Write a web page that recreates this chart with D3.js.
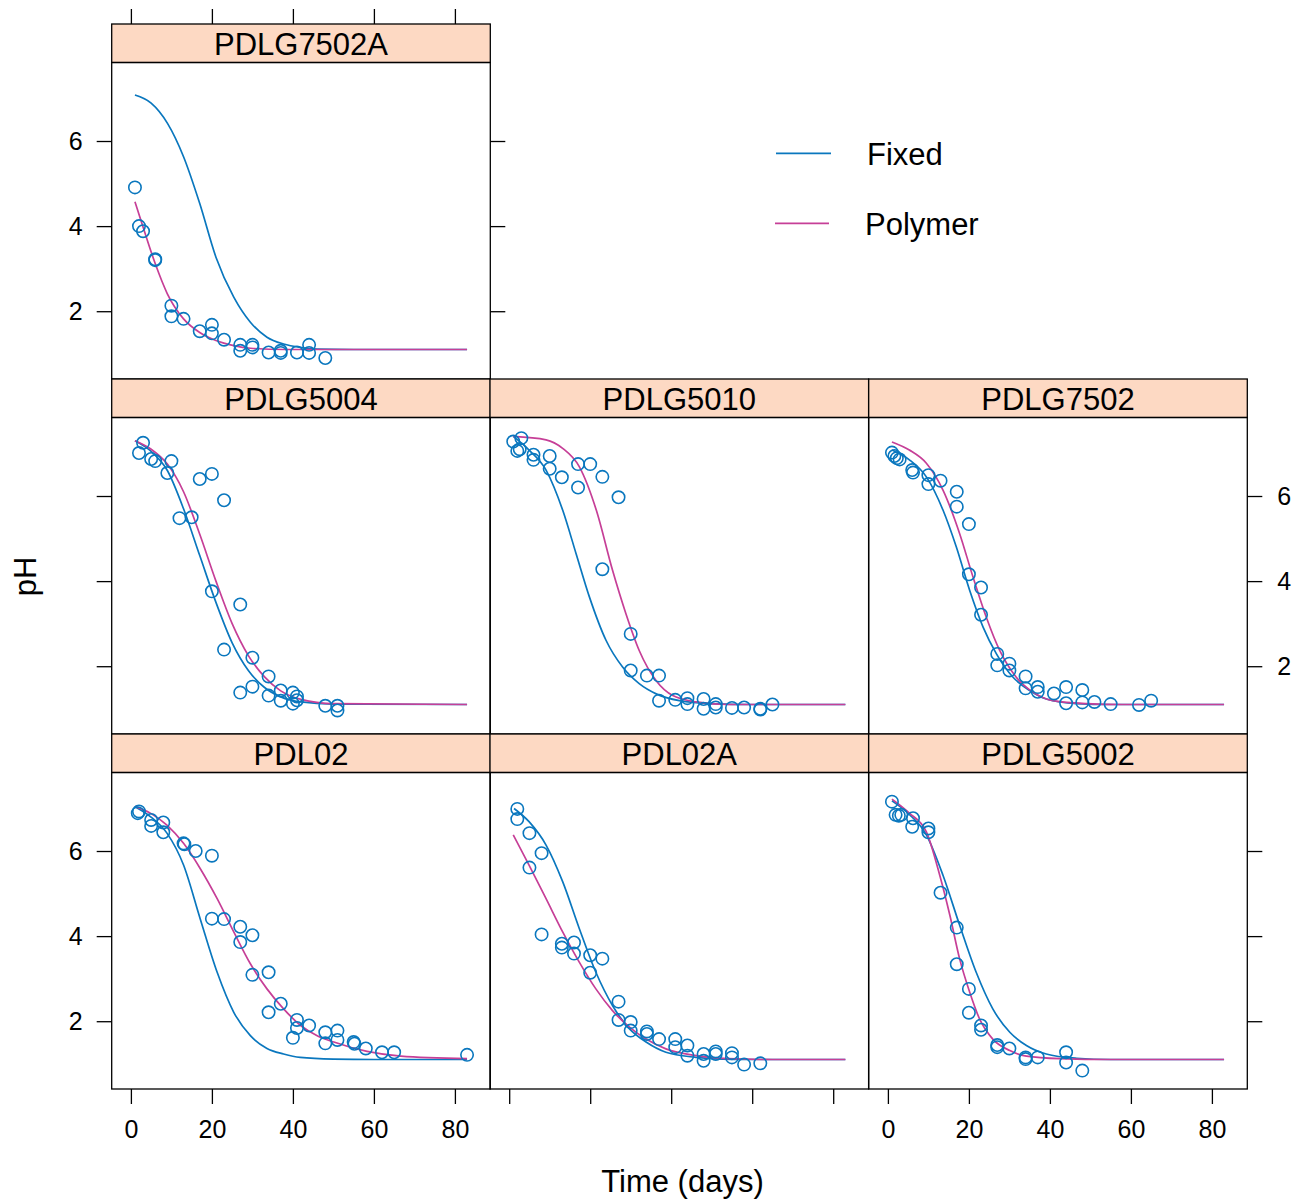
<!DOCTYPE html>
<html><head><meta charset="utf-8">
<script src="https://cdn.jsdelivr.net/npm/d3@7"></script>
<style>body{margin:0;background:#fff}svg{display:block}text{font-family:"Liberation Sans",Arial,Helvetica,sans-serif;fill:#000}</style>
</head><body><svg id="c" width="1311" height="1200"></svg>
<script>
// ---- data ----
const panelNames = ["PDLG7502A","PDLG5004","PDLG5010","PDLG7502","PDL02","PDL02A","PDLG5002"];
const panelCols  = [0,0,1,2,0,1,2];
const panelRows  = [0,1,1,1,2,2,2];
const seriesNames = ["Fixed","Polymer"];
const xTicks = [0,20,40,60,80];
const yTicks = [2,4,6];

const obs_PDLG7502A = [[1,4.91],[2,4.0],[3,3.88],[6,3.22],[6,3.2],[10,2.13],[10,1.88],[13,1.82],[17,1.53],[20,1.68],[20,1.48],[23,1.33],[27,1.21],[27,1.07],[30,1.21],[30,1.15],[34,1.03],[37,1.07],[37,1.02],[41,1.03],[44,1.21],[44,1.02],[48,0.90]];
const fixed_PDLG7502A = [[1,7.08],[5,6.89],[9,6.42],[13,5.63],[17,4.53],[21,3.27],[25.4,2.33],[29.5,1.74],[33.6,1.39],[37.7,1.23],[41.8,1.15],[46,1.11],[55,1.1],[83,1.1]];
const poly_PDLG7502A = [[1,4.57],[3,3.98],[6,3.12],[9,2.41],[13,1.82],[17,1.5],[21,1.31],[25.4,1.19],[29.5,1.13],[38,1.1],[83,1.1]];

const obs_PDLG5004 = [[2,7.01],[3,7.25],[5,6.87],[6,6.82],[9,6.54],[10,6.82],[12,5.48],[15,5.5],[17,6.4],[20,6.52],[20,3.76],[23,5.9],[23,2.39],[27,3.45],[27,1.38],[30,2.2],[30,1.52],[34,1.76],[34,1.31],[37,1.43],[37,1.19],[40,1.38],[40,1.12],[41,1.29],[41,1.2],[48,1.07],[51,1.07],[51,0.96]];
const fixed_PDLG5004 = [[1,7.3],[5,7.05],[9,6.6],[13,5.7],[17,4.6],[21,3.5],[25,2.55],[29,1.9],[33,1.5],[37,1.28],[42,1.16],[50,1.11],[83,1.1]];
const poly_PDLG5004 = [[1,7.3],[5,7.1],[9,6.75],[13,6.1],[17,5.1],[21,4.0],[25,3.0],[29,2.25],[33,1.75],[37,1.42],[42,1.22],[50,1.12],[83,1.1]];

const obs_PDLG5010 = [[1,7.28],[3,7.36],[2,7.06],[2.6,7.1],[6,6.97],[6,6.85],[10,6.94],[10,6.64],[13,6.44],[17,6.75],[17,6.2],[20,6.75],[23,6.45],[27,5.97],[23,4.28],[30,2.76],[30,1.9],[34,1.78],[37,1.78],[37,1.19],[41,1.21],[44,1.25],[44,1.11],[48,1.23],[48,1.0],[51,1.11],[51,1.03],[55,1.02],[58,1.03],[62,1.0],[62,0.98],[65,1.1]];
const fixed_PDLG5010 = [[1,7.4],[4.9,7.08],[9.1,6.61],[13.2,5.67],[16.5,4.65],[19.8,3.63],[23.9,2.61],[28,1.98],[32.1,1.59],[36.3,1.35],[42,1.19],[50,1.12],[60,1.1],[83,1.1]];
const poly_PDLG5010 = [[1,7.4],[9.1,7.32],[13.2,7.12],[17.3,6.69],[21.5,5.67],[25.5,4.26],[28.8,3.24],[32.1,2.37],[36.3,1.66],[40.4,1.31],[46.2,1.16],[54,1.1],[83,1.1]];

const obs_PDLG7502 = [[1,7.02],[1.6,6.94],[2.2,6.89],[2.9,6.86],[6,6.61],[6.2,6.55],[10,6.49],[10,6.28],[13,6.36],[17,6.1],[17,5.75],[20,5.34],[20,4.16],[23,3.85],[23,3.21],[27,2.29],[27,2.02],[30,2.06],[30,1.9],[34,1.76],[34,1.48],[37,1.51],[37,1.4],[41,1.36],[44,1.51],[44,1.13],[48,1.44],[48,1.15],[51,1.16],[55,1.11],[62,1.09],[65,1.19]];
const fixed_PDLG7502 = [[1,7.08],[5.3,6.85],[9.5,6.45],[13.6,5.67],[16.9,4.8],[20.2,3.78],[23.5,2.92],[26.8,2.29],[30.9,1.74],[35,1.43],[39.1,1.23],[46.5,1.12],[55,1.1],[83,1.1]];
const poly_PDLG7502 = [[1,7.27],[5.3,7.08],[9.5,6.77],[13.6,6.14],[17.7,5.12],[21,4.1],[24.3,3.15],[27.6,2.37],[31.7,1.74],[35.8,1.39],[40.8,1.19],[49,1.12],[58,1.1],[83,1.1]];

const obs_PDL02 = [[2,6.93],[1.7,6.89],[5,6.73],[5,6.59],[8,6.67],[8,6.44],[13,6.18],[13.2,6.16],[16,6.0],[20,5.89],[20,4.41],[23,4.4],[27,4.22],[27,3.86],[30,4.02],[30,3.09],[34,3.15],[34,2.21],[37,2.41],[41,2.03],[41,1.84],[40,1.61],[44,1.9],[48,1.74],[48,1.48],[51,1.78],[51,1.56],[55,1.51],[55.2,1.47],[58,1.36],[62,1.27],[65,1.27],[83,1.21]];
const fixed_PDL02 = [[1,7.04],[4.8,6.81],[8.9,6.42],[13,5.67],[17.1,4.41],[21.3,3.15],[25.4,2.21],[29.5,1.66],[33.6,1.36],[37.7,1.23],[41.8,1.15],[50,1.11],[60,1.1],[83,1.1]];
const poly_PDL02 = [[1,7.05],[4.8,6.89],[8.9,6.61],[13,6.18],[17.1,5.59],[21.3,4.88],[25.4,4.1],[29.5,3.35],[33.6,2.76],[37.7,2.29],[41.9,1.9],[46,1.66],[50.1,1.51],[58.3,1.29],[66.6,1.18],[83,1.12]];

const obs_PDL02A = [[2,6.99],[2,6.75],[5,6.42],[8,5.95],[5,5.61],[8,4.04],[13,3.82],[13,3.73],[16,3.85],[16,3.59],[20,3.55],[20,3.14],[23,3.47],[27,2.46],[27,2.03],[30,1.98],[30,1.78],[34,1.76],[34,1.7],[37,1.58],[41,1.58],[41,1.39],[44,1.43],[44,1.19],[48,1.23],[48,1.07],[51,1.29],[51,1.23],[55,1.25],[55,1.15],[58,0.98],[62,1.01]];
const fixed_PDL02A = [[1.2,7.0],[4.9,6.69],[9.1,6.14],[13.2,5.28],[17.3,4.18],[21.4,3.15],[25.5,2.37],[29.7,1.82],[33.8,1.51],[38.7,1.27],[46.1,1.15],[55,1.1],[83,1.1]];
const poly_PDL02A = [[1,6.38],[4.9,5.67],[9.1,4.88],[13.2,4.1],[17.3,3.39],[21.4,2.76],[25.5,2.25],[29.7,1.86],[33.8,1.58],[38.7,1.35],[46.2,1.19],[54,1.12],[65,1.1],[83,1.1]];

const obs_PDLG5002 = [[1,7.16],[1.9,6.85],[2.7,6.83],[3.3,6.85],[6.2,6.77],[6,6.57],[10,6.53],[10,6.44],[13,5.02],[17,4.2],[17,3.34],[20,2.76],[20,2.2],[23,1.9],[23,1.8],[27,1.44],[27,1.39],[30,1.36],[34,1.15],[34,1.11],[37,1.15],[44,1.27],[44,1.03],[48,0.84]];
const fixed_PDLG5002 = [[1,7.18],[5.3,6.86],[9.5,6.38],[13.6,5.43],[17.7,4.26],[21.8,3.15],[25.9,2.29],[30.1,1.74],[34.2,1.43],[39.1,1.23],[46.6,1.13],[55,1.1],[83,1.1]];
const poly_PDLG5002 = [[1,7.22],[5.3,6.89],[9.5,6.45],[12.8,5.43],[15.3,4.49],[17.7,3.47],[20.2,2.68],[22.6,2.06],[25.9,1.58],[30.1,1.31],[34.2,1.18],[42.4,1.12],[55,1.1],[83,1.1]];

const obsByPanel   = [obs_PDLG7502A,obs_PDLG5004,obs_PDLG5010,obs_PDLG7502,obs_PDL02,obs_PDL02A,obs_PDLG5002];
const fixedByPanel = [fixed_PDLG7502A,fixed_PDLG5004,fixed_PDLG5010,fixed_PDLG7502,fixed_PDL02,fixed_PDL02A,fixed_PDLG5002];
const polyByPanel  = [poly_PDLG7502A,poly_PDLG5004,poly_PDLG5010,poly_PDLG7502,poly_PDL02,poly_PDL02A,poly_PDLG5002];

// ---- layout ----
const BLUE = "#0A77BE", PINK = "#C63F97", STRIP = "#FDD9C3";
const colX = [111.7, 490, 868.7];
const rowY = [24, 379, 734];
const PW = 378.6, SH = 38.5, PH = 316.5;
const TICK = 15, FS_TICK = 25, FS_BIG = 31;

const svg = d3.select("#c");
const x = d3.scaleLinear().domain([1-0.07*82, 83+0.07*82]).range([0, PW]);
const y = d3.scaleLinear().domain([0.407, 7.845]).range([PH, 0]);
const line = d3.line().x(d=>x(d[0])).y(d=>y(d[1])).curve(d3.curveMonotoneX);

function styleAxis(g, showLabels, pad){
  g.selectAll(".domain").remove();
  g.selectAll(".tick line").attr("stroke","#000").attr("stroke-width",1.3);
  g.selectAll(".tick text").style("font-size",FS_TICK+"px").attr("fill","#000")
    .style("font-family","'Liberation Sans',Arial,sans-serif");
  if(!showLabels) g.selectAll(".tick text").remove();
}

panelNames.forEach((name,i)=>{
  const c = panelCols[i], r = panelRows[i];
  const gx = colX[c], gy = rowY[r];
  const g = svg.append("g").attr("transform",`translate(${gx},${gy})`);
  // strip
  g.append("rect").attr("x",0).attr("y",0).attr("width",PW).attr("height",SH)
    .attr("fill",STRIP).attr("stroke","#000").attr("stroke-width",1.3);
  g.append("text").attr("x",PW/2).attr("y",30.5).attr("text-anchor","middle")
    .style("font-size",FS_BIG+"px").text(name);
  const p = g.append("g").attr("transform",`translate(0,${SH})`);
  const clipId = "clip"+i;
  p.append("clipPath").attr("id",clipId).append("rect").attr("width",PW).attr("height",PH);
  const pc = p.append("g").attr("clip-path",`url(#${clipId})`);
  pc.append("path").datum(fixedByPanel[i]).attr("d",line).attr("fill","none")
    .attr("stroke",BLUE).attr("stroke-width",1.7);
  pc.append("path").datum(polyByPanel[i]).attr("d",line).attr("fill","none")
    .attr("stroke",PINK).attr("stroke-width",1.7);
  pc.selectAll("circle").data(obsByPanel[i]).join("circle")
    .attr("cx",d=>x(d[0])).attr("cy",d=>y(d[1])).attr("r",6.2)
    .attr("fill","none").attr("stroke",BLUE).attr("stroke-width",1.6);
  p.append("rect").attr("width",PW).attr("height",PH).attr("fill","none")
    .attr("stroke","#000").attr("stroke-width",1.3);

  // axes
  if(c===0){
    const a = p.append("g").call(d3.axisLeft(y).tickValues(yTicks).tickSize(TICK).tickPadding(14).tickFormat(d3.format("d")));
    styleAxis(a, r!==1);
  }
  const isLastInRow = (r===0 && c===0) || (r>0 && c===2);
  if(isLastInRow){
    const a = p.append("g").attr("transform",`translate(${PW},0)`)
      .call(d3.axisRight(y).tickValues(yTicks).tickSize(TICK).tickPadding(15).tickFormat(d3.format("d")));
    styleAxis(a, r===1);
  }
  if(r===2){
    const a = p.append("g").attr("transform",`translate(0,${PH})`)
      .call(d3.axisBottom(x).tickValues(xTicks).tickSize(TICK).tickPadding(16).tickFormat(d3.format("d")));
    styleAxis(a, c!==1);
  }
  if(r===0){
    const a = g.append("g").call(d3.axisTop(x).tickValues(xTicks).tickSize(TICK).tickFormat(d3.format("d")));
    styleAxis(a, false);
  }
});

// legend
const legColors = [BLUE, PINK];
const legLineX = [[776,831],[775,829]];
const legY = [153.3, 223.3];
const legTextX = [867, 865];
seriesNames.forEach((s,i)=>{
  svg.append("line").attr("x1",legLineX[i][0]).attr("x2",legLineX[i][1])
    .attr("y1",legY[i]).attr("y2",legY[i]).attr("stroke",legColors[i]).attr("stroke-width",1.7);
  svg.append("text").attr("x",legTextX[i]).attr("y",legY[i]+11.5)
    .style("font-size",FS_BIG+"px").text(s);
});

// axis titles
svg.append("text").attr("x",682.5).attr("y",1192).attr("text-anchor","middle")
  .style("font-size",FS_BIG+"px").text("Time (days)");
svg.append("text").attr("transform","translate(35.5,576.5) rotate(-90)").attr("text-anchor","middle")
  .style("font-size",FS_BIG+"px").text("pH");
</script></body></html>
